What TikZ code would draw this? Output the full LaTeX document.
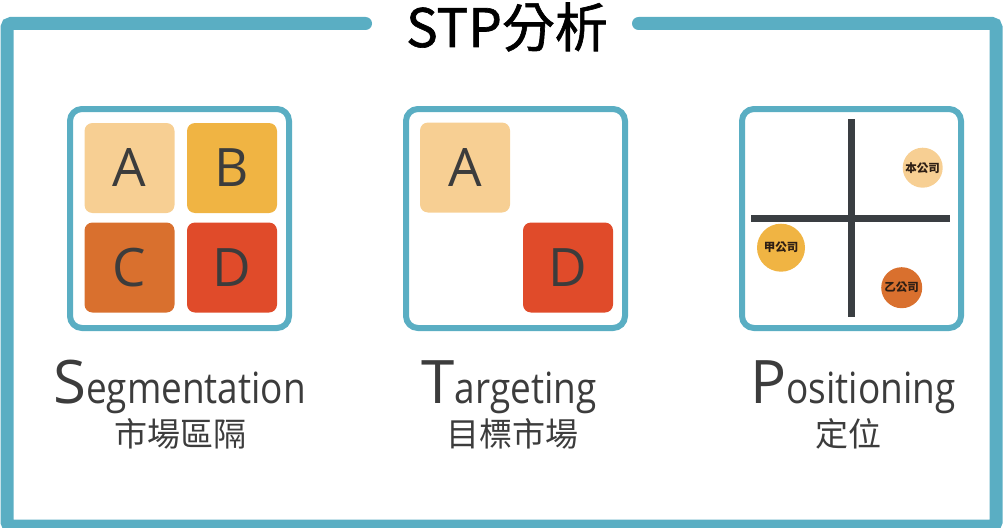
\documentclass[tikz,border=0pt]{standalone}
\usepackage{fontspec}
\usepackage{xcolor}
\usepackage{tikz}
\usetikzlibrary{positioning}
\setmainfont{Open Sans}
\newfontfamily\cjkfont{Noto Sans CJK TC}
\newfontfamily\titlefont[FakeBold=1.2]{Noto Sans CJK TC}
\newfontfamily\narrowfont[FakeStretch=0.86]{Open Sans}
\definecolor{frame}{RGB}{90,174,195}
\definecolor{ink}{RGB}{60,60,60}
\definecolor{peach}{RGB}{247,207,147}
\definecolor{amber}{RGB}{240,180,67}
\definecolor{rust}{RGB}{217,112,46}
\definecolor{brick}{RGB}{224,75,42}
\definecolor{axis}{RGB}{58,62,66}
\begin{document}
\begin{tikzpicture}[x=1pt,y=-1pt,
        panel/.style={draw=frame, line width=6pt, rounded corners=12pt, minimum size=219pt},
        cell/.style={rounded corners=8pt, minimum size=90pt, text=ink, font=\fontsize{53}{53}\selectfont},
        dot/.style={circle, inner sep=0pt, text={rgb,255:red,45;green,30;blue,20}, font=\cjkfont\bfseries\fontsize{11.5}{12}\selectfont},
        big/.style={anchor=base, text=ink},
        sub/.style={anchor=base, text=ink, font=\cjkfont\fontsize{33}{34}\selectfont}]
        \useasboundingbox (0,0) rectangle (1003,527);
        % outer frame with the gap for the title
        \draw[frame, line width=13pt, line cap=round, rounded corners=4pt]
          (365.5,23.5) -- (7,23.5) -- (7,526) -- (996,526) -- (996,23.5) -- (638.5,23.5);
        \node[anchor=base, font=\titlefont\fontsize{53}{53}\selectfont] (title) at (507,47) {STP分析};

        % S
        \node[panel] (seg) at (179.5,218.5) {};
        \node[cell, fill=peach] (segA) at (129.5,168) {A};
        \node[cell, fill=amber] (segB) at (232,168) {B};
        \node[cell, fill=rust] (segC) at (129.5,267.5) {C};
        \node[cell, fill=brick] (segD) at (232,267.5) {D};
        \node[big] (segname) at (179.5,403) {{\fontsize{60}{60}\selectfont S}{\narrowfont\fontsize{43}{43}\selectfont egmentation}};
        \node[sub] (segzh) at (180.5,446.5) {市場區隔};

        % T
        \node[panel] (tar) at (515.5,218.5) {};
        \node[cell, fill=peach] (tarA) at (465,167.5) {A};
        \node[cell, fill=brick] (tarD) at (568,267.5) {D};
        \node[big] (tarname) at (509,403) {{\fontsize{60}{60}\selectfont T}{\narrowfont\fontsize{43}{43}\selectfont argeting}};
        \node[sub] (tarzh) at (512.5,446.5) {目標市場};

        % P
        \node[panel] (pos) at (851.5,218.5) {};
        \draw[axis, line width=7pt] (851,119) -- (851,317);
        \draw[axis, line width=7pt] (751,218) -- (950,218);
        \node[dot, fill=peach, minimum size=40pt] (self) at (922.7,167.7) {本公司};
        \node[dot, fill=amber, minimum size=48pt] (compA) at (781,247.7) {甲公司};
        \node[dot, fill=rust, minimum size=41pt] (compB) at (901.7,287.7) {乙公司};
        \node[big] (posname) at (853,403) {{\fontsize{60}{60}\selectfont P}{\narrowfont\fontsize{43}{43}\selectfont ositioning}};
        \node[sub] (poszh) at (848,446.5) {定位};
      \end{tikzpicture}
\end{document}
